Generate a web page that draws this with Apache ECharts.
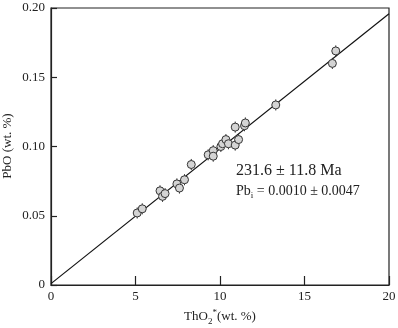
<!DOCTYPE html>
<html>
<head>
<meta charset="utf-8">
<script src="https://cdn.jsdelivr.net/npm/echarts@6/dist/echarts.min.js"></script>
<style>
  html, body { margin: 0; padding: 0; background: #fff; }
  #chart { width: 398px; height: 328px; }
</style>
</head>
<body>
<div id="chart"></div>
<script>
// ThO2* (wt. %) vs PbO (wt. %)
const thO2 = [5.1, 5.4, 6.45, 6.6, 6.75, 7.45, 7.6, 7.9, 8.3, 9.3, 9.6, 9.6, 10.05, 10.15, 10.35, 10.5, 10.9, 10.9, 11.1, 11.45, 11.5, 13.3, 16.65, 16.85]
const pbO = [0.052, 0.055, 0.068, 0.064, 0.066, 0.073, 0.070, 0.076, 0.087, 0.094, 0.097, 0.093, 0.100, 0.102, 0.105, 0.102, 0.114, 0.101, 0.105, 0.115, 0.117, 0.130, 0.160, 0.169]
const pbErr = [0.004, 0.004, 0.004, 0.004, 0.004, 0.004, 0.004, 0.004, 0.004, 0.004, 0.004, 0.004, 0.004, 0.004, 0.004, 0.004, 0.004, 0.004, 0.004, 0.004, 0.004, 0.004, 0.004, 0.004]

// isochron fit
const intercept = 0.001
const slope = 0.00974
const fitX = [0, 20]

const xTicks = [0, 5, 10, 15, 20]
const yTicks = [0, 0.05, 0.1, 0.15, 0.2]

const serif = '"Liberation Serif", "DejaVu Serif", serif'
const ink = '#222'

const chart = echarts.init(document.getElementById('chart'))

const points = thO2.map((x, i) => [x, pbO[i], pbErr[i]])

const option = {
  animation: false,
  grid: {
    left: 51, right: 9, top: 8, bottom: 43,
    containLabel: false,
    outerBoundsMode: 'none',
    show: true, borderColor: ink, borderWidth: 1.2,
  },
  xAxis: {
    type: 'value',
    min: 0, max: 20, interval: 5,
    splitLine: { show: false },
    axisLine: { lineStyle: { color: ink, width: 1.2 } },
    axisTick: { inside: true, length: 9, lineStyle: { color: ink, width: 1.2 } },
    axisLabel: {
      margin: 5, color: ink, fontFamily: serif, fontSize: 13,
      formatter: (v) => xTicks.includes(v) ? String(v) : '',
    },
    name: '{t|ThO}{sub|2}{sup|*}{t|(wt. %)}',
    nameLocation: 'middle',
    nameGap: 23,
    nameTextStyle: {
      rich: {
        t: { fontFamily: serif, fontSize: 13, color: ink, lineHeight: 18, verticalAlign: 'middle' },
        sub: { fontFamily: serif, fontSize: 9, color: ink, lineHeight: 18, verticalAlign: 'bottom' },
        sup: { fontFamily: serif, fontSize: 9, color: ink, lineHeight: 18, verticalAlign: 'top' },
      },
    },
  },
  yAxis: {
    type: 'value',
    min: 0, max: 0.2, interval: 0.05,
    splitLine: { show: false },
    axisLine: { lineStyle: { color: ink, width: 1.2 } },
    axisTick: { inside: true, length: 6, lineStyle: { color: ink, width: 1.2 } },
    axisLabel: {
      margin: 6, color: ink, fontFamily: serif, fontSize: 13,
      formatter: (v) => {
        const t = yTicks.find((k) => Math.abs(k - v) < 1e-9)
        if (t === undefined) return ''
        return t === 0 ? '0' : t.toFixed(2)
      },
    },
  },
  series: [
    {
      name: 'fit',
      type: 'line',
      data: fitX.map((x) => [x, intercept + slope * x]),
      symbol: 'none',
      lineStyle: { color: '#111', width: 1.2 },
      z: 1,
    },
    {
      name: 'err',
      type: 'custom',
      data: points,
      renderItem: (params, api) => {
        const x = api.value(0)
        const y = api.value(1)
        const e = api.value(2)
        const p1 = api.coord([x, y - e])
        const p2 = api.coord([x, y + e])
        return {
          type: 'line',
          shape: { x1: p1[0], y1: p1[1], x2: p2[0], y2: p2[1] },
          style: { stroke: '#333', lineWidth: 1 },
        }
      },
      z: 2,
    },
    {
      name: 'PbO',
      type: 'scatter',
      data: points,
      symbol: 'circle',
      symbolSize: 8,
      itemStyle: { color: '#d4d4d4', borderColor: '#333', borderWidth: 1, opacity: 1 },
      z: 3,
    },
  ],
  graphic: [
    {
      // y axis title
      type: 'text',
      x: 8, y: 146,
      rotation: Math.PI / 2,
      style: {
        text: 'PbO (wt. %)', fontFamily: serif, fontSize: 13, fill: ink,
        align: 'center', verticalAlign: 'middle',
      },
    },
    {
      type: 'text',
      left: 236, top: 163,
      style: { text: '231.6 ± 11.8 Ma', fontFamily: serif, fontSize: 16, fill: ink },
    },
    {
      type: 'text',
      left: 236, top: 184,
      style: {
        text: '{t|Pb}{sub|i}{t| = 0.0010 ± 0.0047}',
        rich: {
          t: { fontFamily: serif, fontSize: 14, fill: ink, lineHeight: 18, verticalAlign: 'middle' },
          sub: { fontFamily: serif, fontSize: 9, fill: ink, lineHeight: 18, verticalAlign: 'bottom' },
        },
      },
    },
  ],
}

chart.setOption(option)
</script>
</body>
</html>
